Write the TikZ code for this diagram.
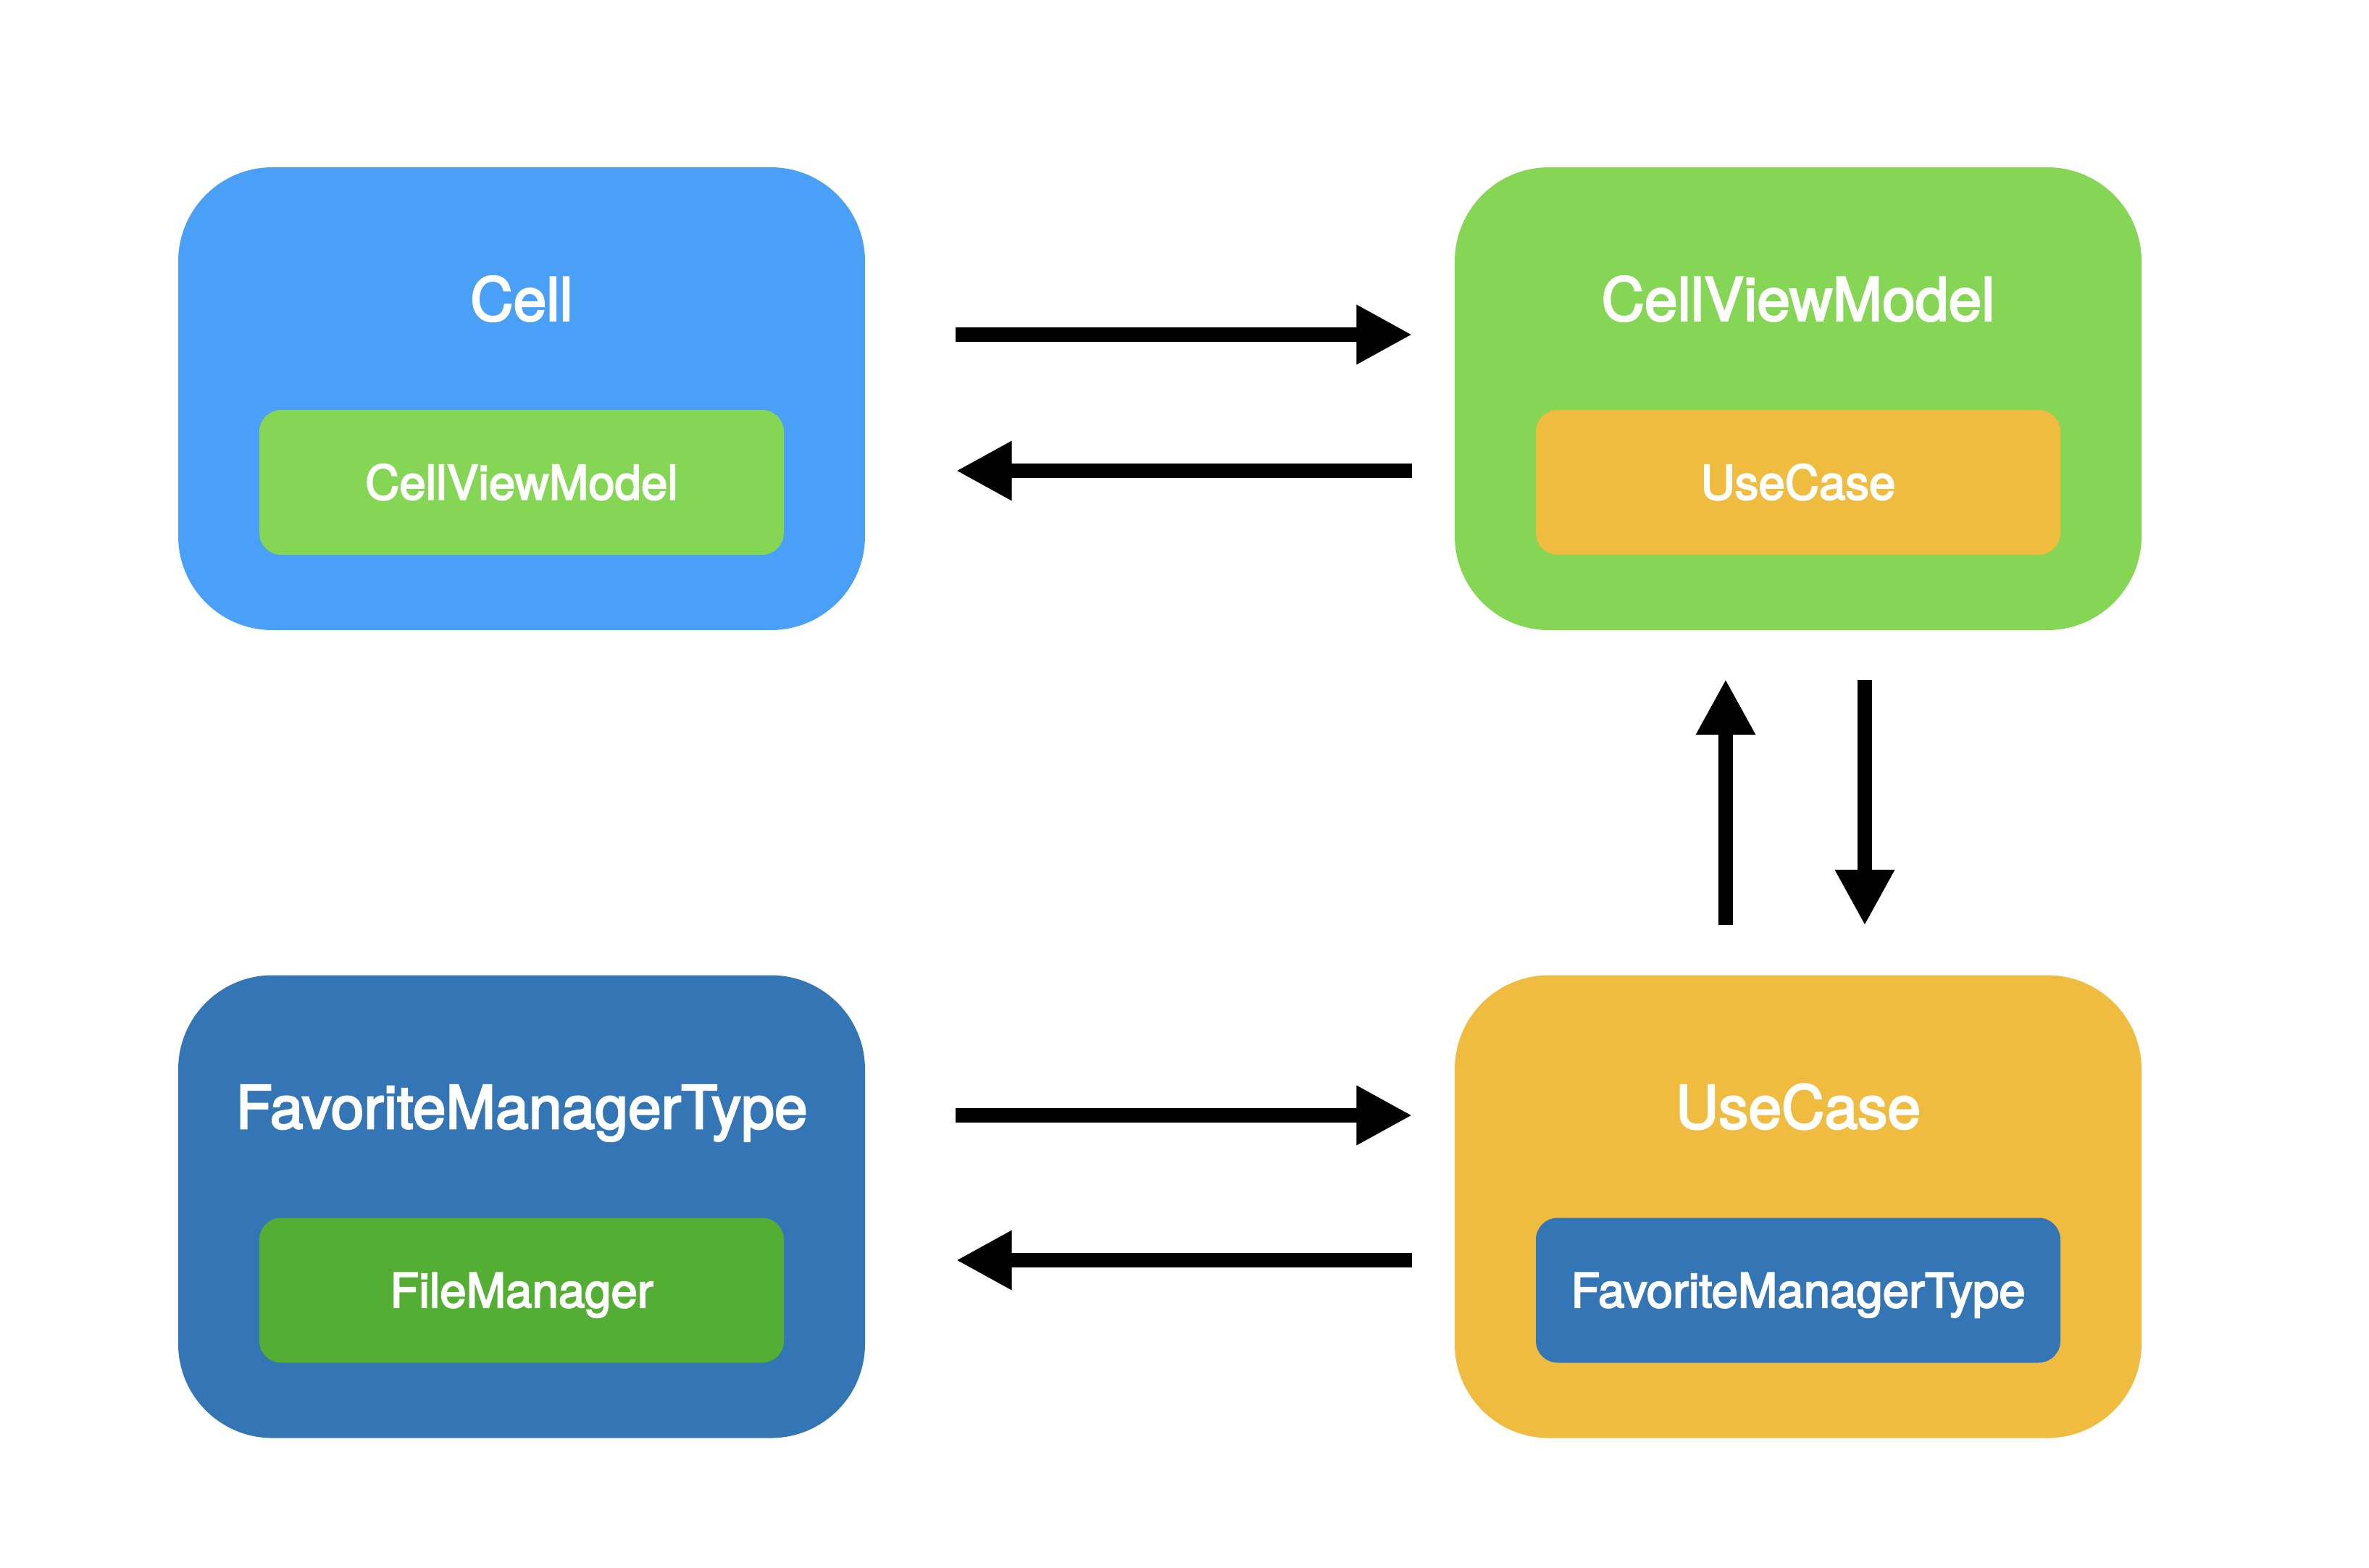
\documentclass[tikz,border=0pt]{standalone}
\usepackage{fontspec}
\setmainfont{TeX Gyre Heros}[FakeBold=3]
\usepackage{xcolor}
\usepackage{tikz}
\usetikzlibrary{positioning, arrows.meta, calc}
\definecolor{cellblue}{HTML}{49A0F6}
\definecolor{vmgreen}{HTML}{84D654}
\definecolor{ucyellow}{HTML}{EFBC40}
\definecolor{favblue}{HTML}{3475B6}
\definecolor{fmgreen}{HTML}{54AE33}
\tikzset{
    arr/.style={line width=2mm, -{Triangle[length=7.7mm, width=7.7mm]}},
    outer/.style={rectangle, rounded corners=1.3cm, minimum width=9.48cm, minimum height=6.39cm, inner sep=0pt},
    inner/.style={rectangle, rounded corners=3mm, minimum width=7.24cm, minimum height=2cm, inner sep=0pt,
        text=white, font=\fontsize{18.6}{22}\selectfont, text height=4.7mm, text depth=0pt},
    title/.style={anchor=base, text=white, inner sep=0pt, font=\fontsize{23.4}{28}\selectfont},
}
\begin{document}
\begin{tikzpicture}
        \useasboundingbox (0,0) rectangle (32.7,-21.64);
        \node[outer, fill=cellblue] (cell) at (7.2,-5.505) {};
        \node[outer, fill=vmgreen] (cvm) at (24.82,-5.505) {};
        \node[outer, fill=favblue] (fav) at (7.2,-16.66) {};
        \node[outer, fill=ucyellow] (uc) at (24.82,-16.66) {};
        \node[title] (cellT) at ([yshift=1.08cm]cell.center) {Cell};
        \node[title] (cvmT) at ([yshift=1.08cm]cvm.center) {CellViewModel};
        \node[title] (favT) at ([yshift=1.08cm]fav.center) {FavoriteManagerType};
        \node[title] (ucT) at ([yshift=1.08cm]uc.center) {UseCase};
        \node[inner, fill=vmgreen] (cellIn) at ([yshift=-1.155cm]cell.center) {CellViewModel};
        \node[inner, fill=ucyellow] (cvmIn) at ([yshift=-1.155cm]cvm.center) {UseCase};
        \node[inner, fill=fmgreen] (favIn) at ([yshift=-1.155cm]fav.center) {FileManager};
        \node[inner, fill=favblue] (ucIn) at ([yshift=-1.155cm]uc.center) {FavoriteManagerType};
        % top row
        \draw[arr] ([xshift=1.24cm, yshift=0.885cm]cell.east) -- ([xshift=-0.58cm, yshift=0.885cm]cvm.west);
        \draw[arr] ([xshift=-0.58cm, yshift=-0.995cm]cvm.west) -- ([xshift=1.25cm, yshift=-0.995cm]cell.east);
        % bottom row
        \draw[arr] ([xshift=1.24cm, yshift=1.26cm]fav.east) -- ([xshift=-0.58cm, yshift=1.26cm]uc.west);
        \draw[arr] ([xshift=-0.58cm, yshift=-0.74cm]uc.west) -- ([xshift=1.25cm, yshift=-0.74cm]fav.east);
        % right column
        \draw[arr] ([xshift=-1cm, yshift=0.69cm]uc.north) -- ([xshift=-1cm, yshift=-0.67cm]cvm.south);
        \draw[arr] ([xshift=0.92cm, yshift=-0.68cm]cvm.south) -- ([xshift=0.92cm, yshift=0.68cm]uc.north);
    \end{tikzpicture}
\end{document}
